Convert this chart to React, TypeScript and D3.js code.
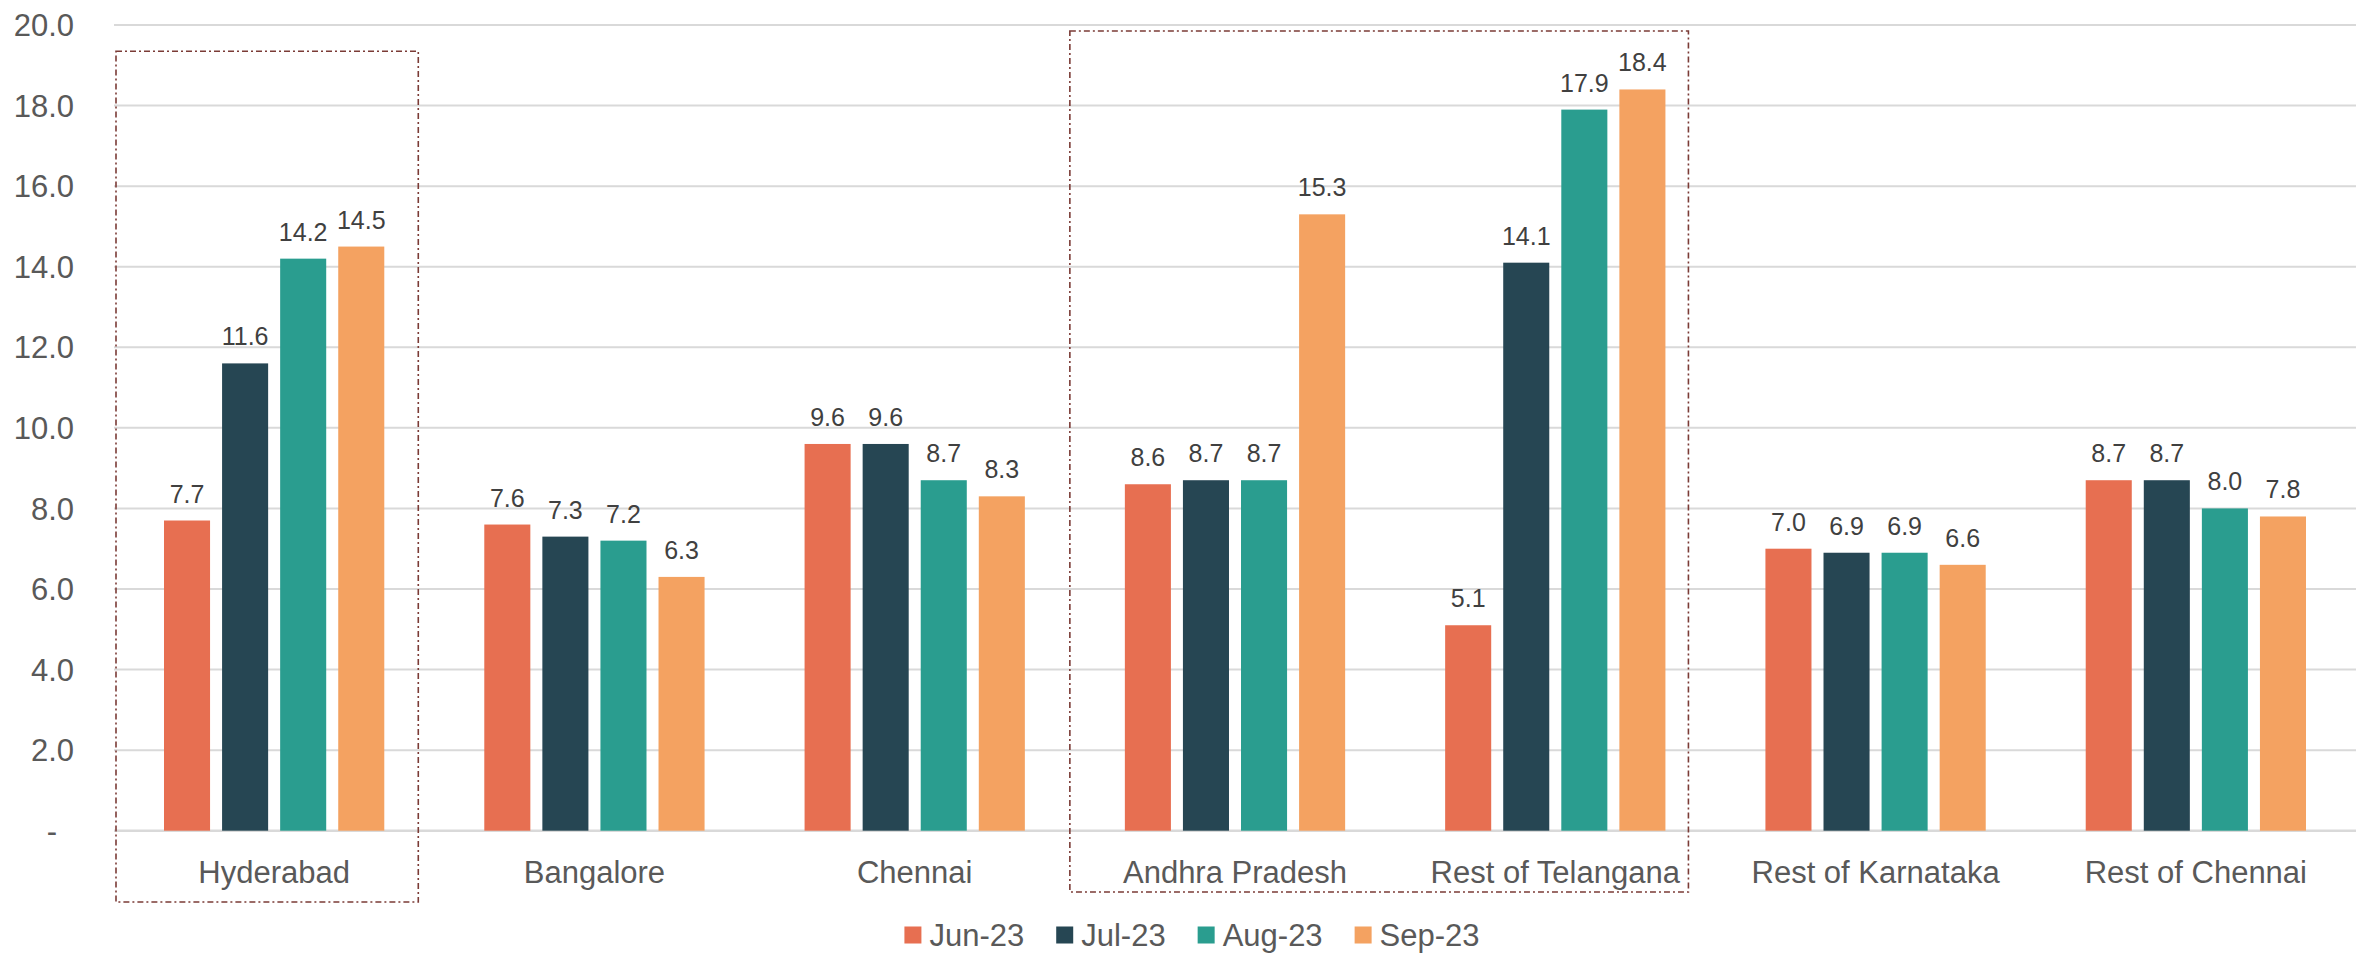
import { useEffect, useRef } from 'react';
import * as d3 from 'd3';

const categories = ['Hyderabad', 'Bangalore', 'Chennai', 'Andhra Pradesh', 'Rest of Telangana', 'Rest of Karnataka', 'Rest of Chennai'];
const seriesNames = ['Jun-23', 'Jul-23', 'Aug-23', 'Sep-23'];
const seriesColors = ['#E76F51', '#264653', '#2A9D8F', '#F4A261'];

const jun23 = [7.7, 7.6, 9.6, 8.6, 5.1, 7.0, 8.7];
const jul23 = [11.6, 7.3, 9.6, 8.7, 14.1, 6.9, 8.7];
const aug23 = [14.2, 7.2, 8.7, 8.7, 17.9, 6.9, 8.0];
const sep23 = [14.5, 6.3, 8.3, 15.3, 18.4, 6.6, 7.8];

const yTicks = [0, 2, 4, 6, 8, 10, 12, 14, 16, 18, 20];

// categories wrapped in the dash-dot boxes
const highlightGroups = [['Hyderabad'], ['Andhra Pradesh', 'Rest of Telangana']];

const FONT = '"Liberation Sans", Arial, sans-serif';

const App = () => {
  const svgRef = useRef<SVGSVGElement>(null);

  useEffect(() => {
    if (!svgRef.current) return;
    d3.select(svgRef.current).selectAll('*').remove();

    const width = 2356;
    const height = 959;
    const margin = { top: 25, right: 0, bottom: 128.3, left: 114 };

    const allSeries = [jun23, jul23, aug23, sep23];
    const rows = categories.map((c, i) => ({
      category: c,
      values: seriesNames.map((s, j) => ({ series: s, value: allSeries[j][i], color: seriesColors[j] })),
    }));

    const svg = d3.select(svgRef.current)
      .attr('width', width)
      .attr('height', height)
      .style('font-family', FONT);

    const x = d3.scaleBand<string>()
      .domain(categories)
      .range([margin.left, width - margin.right]);

    const inner = d3.scaleBand<string>()
      .domain(seriesNames)
      .range([50, x.bandwidth() - 50])
      .paddingInner(0.207);

    const y = d3.scaleLinear()
      .domain([0, 20])
      .range([height - margin.bottom, margin.top]);

    // gridlines
    svg.append('g')
      .selectAll('line')
      .data(yTicks)
      .enter()
      .append('line')
      .attr('x1', margin.left)
      .attr('x2', width - margin.right)
      .attr('y1', d => y(d))
      .attr('y2', d => y(d))
      .attr('stroke', '#d9d9d9')
      .attr('stroke-width', d => (d === 0 ? 2.5 : 2));

    // y tick labels
    svg.append('g')
      .selectAll('text')
      .data(yTicks)
      .enter()
      .append('text')
      .attr('x', d => (d === 0 ? 57 : 74))
      .attr('y', d => y(d))
      .attr('dy', '0.36em')
      .attr('text-anchor', 'end')
      .attr('font-size', 31)
      .attr('fill', '#595959')
      .text(d => (d === 0 ? '-' : d3.format('.1f')(d)));

    // bars
    const groups = svg.append('g')
      .selectAll('g')
      .data(rows)
      .enter()
      .append('g')
      .attr('transform', d => `translate(${x(d.category)},0)`);

    groups.selectAll('rect')
      .data(d => d.values)
      .enter()
      .append('rect')
      .attr('x', d => inner(d.series) || 0)
      .attr('y', d => y(d.value))
      .attr('width', inner.bandwidth())
      .attr('height', d => y(0) - y(d.value))
      .attr('fill', d => d.color);

    // value labels
    groups.selectAll('text')
      .data(d => d.values)
      .enter()
      .append('text')
      .attr('x', d => (inner(d.series) || 0) + inner.bandwidth() / 2)
      .attr('y', d => y(d.value) - 18)
      .attr('text-anchor', 'middle')
      .attr('font-size', 25)
      .attr('fill', '#404040')
      .text(d => d.value.toFixed(1));

    // category labels
    svg.append('g')
      .selectAll('text')
      .data(categories)
      .enter()
      .append('text')
      .attr('x', d => (x(d) || 0) + x.bandwidth() / 2)
      .attr('y', 882.7)
      .attr('text-anchor', 'middle')
      .attr('font-size', 31)
      .attr('fill', '#595959')
      .text(d => d);

    // dash-dot highlight boxes
    const boxOffsets = [
      { left: 2, right: -16, top: 19.35, bottom: 902 },
      { left: -5, right: -27, top: 19.85, bottom: 892 },
    ];
    highlightGroups.forEach((grp, i) => {
      const o = boxOffsets[i];
      const x0 = (x(grp[0]) || 0) + o.left;
      const x1 = (x(grp[grp.length - 1]) || 0) + x.bandwidth() + o.right;
      svg.append('rect')
        .attr('x', x0)
        .attr('y', y(o.top))
        .attr('width', x1 - x0)
        .attr('height', o.bottom - y(o.top))
        .attr('fill', 'none')
        .attr('stroke', '#7b3b36')
        .attr('stroke-width', 1.6)
        .attr('stroke-dasharray', '6,3,2,3');
    });

    // legend
    const legend = svg.append('g');
    const items = legend.selectAll('g')
      .data(seriesNames)
      .enter()
      .append('g');
    items.append('rect')
      .attr('width', 17)
      .attr('height', 17)
      .attr('y', -8.5)
      .attr('fill', (_, i) => seriesColors[i]);
    items.append('text')
      .attr('x', 25)
      .attr('dy', '0.36em')
      .attr('font-size', 31)
      .attr('fill', '#595959')
      .text(d => d);

    let cursor = 0;
    const gap = 32;
    items.each(function () {
      const g = d3.select(this);
      const t = g.select('text').node() as SVGTextElement;
      const w = 25 + t.getComputedTextLength();
      g.attr('transform', `translate(${cursor},0)`);
      cursor += w + gap;
    });
    const legendWidth = cursor - gap;
    legend.attr('transform', `translate(${1192 - legendWidth / 2},935)`);
  }, []);

  return (
    <div style={{ position: 'absolute', left: 0, top: 0, background: '#fff' }}>
      <svg ref={svgRef} style={{ display: 'block' }} />
    </div>
  );
};

export default App;
